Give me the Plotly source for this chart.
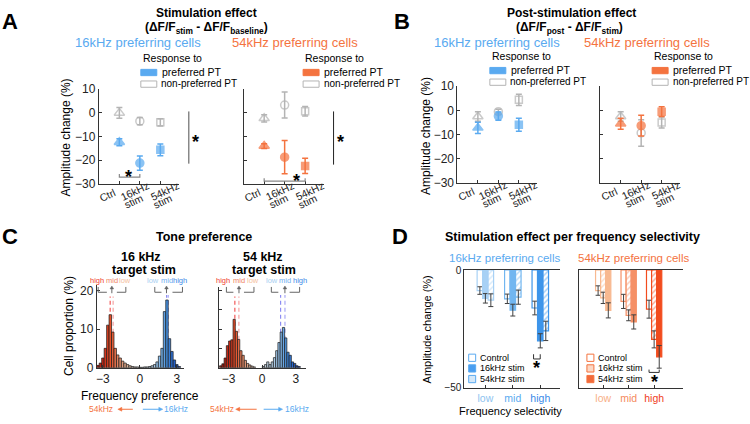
import plotly.graph_objects as go

W, H = 750, 424
FONT = "Liberation Sans, Arial, sans-serif"

BLUE = "#5aaaf0"
ORANGE = "#f4733f"
GRAY = "#b4b4b4"
AXC = "#333333"

# ---------------- data ----------------
conds = [1, 2, 3]
cond_labels = [["Ctrl"], ["16kHz", "stim"], ["54kHz", "stim"]]

# A: stimulation effect
a16_pref = [-12.4, -21.2, -15.6]
a16_pref_err = [1.5, 3.0, 2.5]
a16_non = [0.0, -3.5, -4.0]
a16_non_err = [2.3, 1.5, 1.5]
a54_pref = [-14.0, -18.7, -22.4]
a54_pref_err = [1.0, 7.0, 3.2]
a54_non = [-2.3, 3.3, 0.7]
a54_non_err = [1.5, 5.5, 2.0]

# B: post-stimulation effect
b16_pref = [-7.2, -2.3, -5.9]
b16_pref_err = [2.3, 1.7, 2.7]
b16_non = [-2.5, -0.5, 4.4]
b16_non_err = [2.0, 1.0, 2.3]
b54_pref = [-5.5, -6.3, -0.5]
b54_pref_err = [2.3, 4.3, 2.0]
b54_non = [-2.5, -9.3, -5.0]
b54_non_err = [2.0, 5.5, 2.3]

# C: tone preference histograms (bin centre, % of cells)
c1_orange_x = [-3.4, -3.2, -3.0, -2.8, -2.6, -2.4, -2.2, -2.0, -1.8, -1.6, -1.4, -1.2, -1.0, -0.8, -0.6, -0.4, -0.2]
c1_orange_h = [0.6, 1.2, 2.5, 5.0, 11.0, 13.7, 9.2, 5.0, 3.3, 2.5, 1.7, 1.2, 0.8, 0.5, 0.3, 0.2, 0.2]
c1_blue_x = [0.0, 0.2, 0.4, 0.6, 0.8, 1.0, 1.2, 1.4, 1.6, 1.8, 2.0, 2.2, 2.4, 2.6, 2.8, 3.0, 3.2]
c1_blue_h = [0.1, 0.1, 0.2, 0.2, 0.3, 0.5, 0.8, 1.5, 3.0, 5.0, 14.5, 17.5, 7.5, 4.2, 2.0, 0.8, 0.3]
c2_orange_x = [-3.7, -3.5, -3.3, -3.1, -2.9, -2.7, -2.5, -2.3, -2.1, -1.9, -1.7, -1.5, -1.3, -1.1, -0.9, -0.7]
c2_orange_h = [0.5, 1.0, 2.5, 5.7, 6.9, 7.2, 12.5, 9.4, 7.3, 4.4, 3.2, 1.9, 1.1, 0.7, 0.4, 0.2]
c2_blue_x = [0.1, 0.3, 0.5, 0.7, 0.9, 1.1, 1.3, 1.5, 1.7, 1.9, 2.1, 2.3, 2.5, 2.7, 2.9, 3.1, 3.3]
c2_blue_h = [0.3, 0.8, 1.5, 0.8, 1.5, 2.6, 4.4, 6.5, 9.2, 10.4, 7.7, 4.0, 3.2, 1.5, 1.1, 0.5, 0.3]
c1_medians_orange = [-2.41, -2.17]
c1_medians_blue = [2.17, 2.30]
c2_medians_orange = [-2.44, -2.08]
c2_medians_blue = [1.64, 2.03]

# D: stimulation effect per frequency selectivity
sel = [1, 2, 3]
sel_labels = ["low", "mid", "high"]
d16_ctrl = [-8.7, -12.2, -16.1]
d16_ctrl_err = [1.6, 2.0, 2.9]
d16_s16 = [-12.0, -17.0, -30.0]
d16_s16_err = [2.0, 2.5, 3.0]
d16_s54 = [-12.8, -11.5, -25.8]
d16_s54_err = [2.7, 3.0, 4.1]
d54_ctrl = [-8.7, -13.3, -16.6]
d54_ctrl_err = [2.0, 3.0, 3.8]
d54_s16 = [-11.8, -19.2, -29.4]
d54_s16_err = [2.4, 2.3, 3.6]
d54_s54 = [-17.1, -22.0, -36.8]
d54_s54_err = [3.2, 3.0, 4.8]

D_BLUES = ["#a8d1f5", "#72b6f0", "#3d95ea"]
D_ORANGES = ["#f8b990", "#f59066", "#f24c1e"]


def px(x):
    return x / W


def py(y):
    return 1 - y / H


def lerp(stops, v):
    if v <= stops[0][0]:
        c = stops[0][1]
    elif v >= stops[-1][0]:
        c = stops[-1][1]
    else:
        for (p0, c0), (p1, c1) in zip(stops[:-1], stops[1:]):
            if p0 <= v <= p1:
                t = (v - p0) / (p1 - p0)
                c = tuple(a + (b - a) * t for a, b in zip(c0, c1))
                break
    return "rgb(%d,%d,%d)" % c


ORANGE_STOPS = [(-3.7, (150, 25, 15)), (-2.9, (205, 45, 25)), (-2.4, (232, 80, 40)),
                (-1.8, (225, 130, 95)), (-1.0, (222, 178, 150)), (-0.2, (210, 200, 192))]
BLUE_STOPS = [(0.0, (195, 205, 215)), (1.0, (178, 205, 228)), (1.6, (140, 190, 235)),
              (2.2, (70, 145, 225)), (2.8, (35, 95, 200)), (3.4, (25, 55, 150))]

fig = go.Figure()


def points(y, err, color, filled, ax):
    syms = ["triangle-up", "circle", "square"]
    if not filled:
        syms = [s + "-open" for s in syms]
    fig.add_trace(go.Scatter(
        x=conds, y=y, mode="markers",
        marker=dict(symbol=syms, size=[9, 8, 7], color=color, line=dict(color=color, width=1.5)),
        error_y=dict(type="data", array=err, color=color, thickness=1.5, width=3),
        xaxis="x" + ax, yaxis="y" + ax, showlegend=False, cliponaxis=False))


points(a16_non, a16_non_err, GRAY, False, "")
points(a16_pref, a16_pref_err, BLUE, True, "")
points(a54_non, a54_non_err, GRAY, False, "2")
points(a54_pref, a54_pref_err, ORANGE, True, "2")
points(b16_non, b16_non_err, GRAY, False, "3")
points(b16_pref, b16_pref_err, BLUE, True, "3")
points(b54_non, b54_non_err, GRAY, False, "4")
points(b54_pref, b54_pref_err, ORANGE, True, "4")

# C histograms
for ax, ox, oh, bx, bh in [("5", c1_orange_x, c1_orange_h, c1_blue_x, c1_blue_h),
                           ("6", c2_orange_x, c2_orange_h, c2_blue_x, c2_blue_h)]:
    cols = [lerp(ORANGE_STOPS, v) for v in ox] + [lerp(BLUE_STOPS, v) for v in bx]
    fig.add_trace(go.Bar(
        x=ox + bx, y=oh + bh, width=0.2,
        marker=dict(color=cols, line=dict(color="#1a1a1a", width=0.7)),
        xaxis="x" + ax, yaxis="y" + ax, showlegend=False))


# D bars
def bars(y, err, cols, style, ax):
    if style == "open":
        marker = dict(color="white", line=dict(color=cols, width=1.2))
    elif style == "solid":
        marker = dict(color=cols, line=dict(color=cols, width=1.2))
    else:
        marker = dict(color="white", line=dict(color=cols, width=1.2),
                      pattern=dict(shape="/", fgcolor=cols, bgcolor="white", size=4, solidity=0.35))
    fig.add_trace(go.Bar(
        x=sel, y=y, marker=marker,
        error_y=dict(type="data", array=err, color="#404040", thickness=1, width=2.5),
        xaxis="x" + ax, yaxis="y" + ax, showlegend=False))


bars(d16_ctrl, d16_ctrl_err, D_BLUES, "open", "7")
bars(d16_s16, d16_s16_err, D_BLUES, "solid", "7")
bars(d16_s54, d16_s54_err, D_BLUES, "hatch", "7")
bars(d54_ctrl, d54_ctrl_err, D_ORANGES, "open", "8")
bars(d54_s16, d54_s16_err, D_ORANGES, "hatch", "8")
bars(d54_s54, d54_s54_err, D_ORANGES, "solid", "8")

# ---------------- axes ----------------
base_ax = dict(showline=True, linecolor=AXC, linewidth=1, ticks="inside", ticklen=3,
               tickcolor=AXC, showgrid=False, zeroline=False,
               tickfont=dict(family=FONT, size=11, color="#222"))

layout_axes = {}


def set_axes(n, xdom, ydom, xr, yr, xkw, ykw):
    xa = dict(base_ax, domain=[px(xdom[0]), px(xdom[1])], range=xr, anchor="y" + n)
    ya = dict(base_ax, domain=[py(ydom[1]), py(ydom[0])], range=yr, anchor="x" + n)
    xa.update(xkw)
    ya.update(ykw)
    layout_axes["xaxis" + n] = xa
    layout_axes["yaxis" + n] = ya


ab_x = dict(tickvals=conds, showticklabels=False)
ab_y_lab = dict(tickvals=[10, 0, -10, -20, -30], tickfont=dict(family=FONT, size=12, color="#222"))
ab_y_nolab = dict(tickvals=[10, 0, -10, -20, -30], showticklabels=False)

AB_PANELS = [("", 98, 85, 183), ("2", 243, 85, 183), ("3", 457, 82, 182), ("4", 600, 82, 182)]
for n, x0, y0, y1 in AB_PANELS:
    set_axes(n, (x0, x0 + 80), (y0, y1), [0, 3.9], [-30, 10], ab_x,
             ab_y_lab if n in ("", "3") else ab_y_nolab)

c_x = dict(tickvals=[-3, 0, 3], tickfont=dict(family=FONT, size=12, color="#222"))
set_axes("5", (96, 183), (288, 373), [-3.49, 3.56], [0, 21.25], c_x,
         dict(tickvals=[0, 10, 20], tickfont=dict(family=FONT, size=12, color="#222")))
set_axes("6", (218, 305), (290, 373), [-3.88, 3.87], [0, 20.75], c_x,
         dict(tickvals=[0, 5, 10, 15, 20], showticklabels=False))


def sel_text(cols):
    return ["<span style='color:%s'>%s</span>" % (c, t) for c, t in zip(cols, sel_labels)]


d_y = dict(tickvals=[0, -50], tickfont=dict(family=FONT, size=10, color="#222"))
set_axes("7", (464, 560), (272, 394), [0.236, 3.727], [-50, 0],
         dict(tickvals=sel, ticktext=sel_text(["#8ec3f0", "#5aaaf0", "#3a8ae8"]), mirror=True,
              tickfont=dict(family=FONT, size=10.5)), d_y)
set_axes("8", (579, 683), (272, 394), [0.059, 4.137], [-50, 0],
         dict(tickvals=sel, ticktext=sel_text(["#f8b088", "#f58a5e", "#f03c1c"]), mirror=True,
              tickfont=dict(family=FONT, size=10.5)), dict(d_y, showticklabels=False))

# ---------------- annotations & shapes ----------------
ann = []
shapes = []


def text(s, x, y, size=11, color="#000", anchor="center", angle=0, ref=None, yshift=0, xshift=0):
    d = dict(text=s, x=px(x), y=py(y), xref="paper", yref="paper", showarrow=False,
             xanchor=anchor, yanchor="middle", textangle=angle, yshift=yshift, xshift=xshift,
             font=dict(family=FONT, size=size, color=color))
    if ref is not None:
        d.update(x=x, y=y, xref="x" + ref, yref="y" + ref)
    ann.append(d)


def star(x, y, ref=None):
    text("<b>*</b>", x, y, size=18, ref=ref, yshift=-5)


def rect(x0, y0, x1, y1, fill, line):
    shapes.append(dict(type="rect", xref="paper", yref="paper", x0=px(x0), x1=px(x1),
                       y0=py(y0), y1=py(y1), fillcolor=fill, line=dict(color=line, width=1)))


def pline(pts, color="#777", width=1, fill=None):
    p = "M " + " L ".join("%f,%f" % (px(a), py(b)) for a, b in pts)
    s = dict(type="path", path=p + (" Z" if fill else ""), xref="paper", yref="paper",
             line=dict(color=color, width=width))
    if fill:
        s["fillcolor"] = fill
    shapes.append(s)


def dline(pts, ref, color="#888", width=1.2):
    p = "M " + " L ".join("%f,%f" % (a, b) for a, b in pts)
    shapes.append(dict(type="path", path=p, xref="x" + ref, yref="y" + ref,
                       line=dict(color=color, width=width)))


def arrow_up(x, ytop, ybot, color):
    pline([(x, ybot), (x, ytop + 2)], color=color)
    pline([(x - 1.8, ytop + 3), (x + 1.8, ytop + 3), (x, ytop)], color=color, width=0.5, fill=color)


def arrow_h(hx, tx, y, color):
    d = 1 if tx > hx else -1
    pline([(tx, y), (hx + d * 3, y)], color=color)
    pline([(hx + d * 4, y - 2), (hx + d * 4, y + 2), (hx, y)], color=color, width=0.5, fill=color)


# rotated condition labels under A/B panels (offsets in px from the tick)
LABEL_DX = [[-12], [-5, -6], [4.5, 3]]
LABEL_DY = [[11], [7.5, 18], [7.5, 18]]
for n, x0, y0, y1 in AB_PANELS:
    for c, lines, dxs, dys in zip(conds, cond_labels, LABEL_DX, LABEL_DY):
        for s, dx, dy in zip(lines, dxs, dys):
            ann.append(dict(text=s, x=c, y=py(y1 + dy), xref="x" + n, yref="paper",
                            xshift=dx, showarrow=False, textangle=-25, xanchor="center",
                            yanchor="middle", font=dict(family=FONT, size=10.5, color="#222")))

# panel letters
for L, x, y in [("A", 9, 15), ("B", 402, 15), ("C", 9, 237), ("D", 400, 237)]:
    text("<b>%s</b>" % L, x, y, size=22)

# A/B titles
text("<b>Stimulation effect</b>", 206, 6, size=12)
text("<b>(ΔF/F<sub>stim</sub> - ΔF/F<sub>baseline</sub>)</b>", 206, 22, size=12)
text("<b>Post-stimulation effect</b>", 571, 6, size=12)
text("<b>(ΔF/F<sub>post</sub> - ΔF/F<sub>stim</sub>)</b>", 569, 22, size=12)
text("16kHz preferring cells", 137.5, 37, size=13, color=BLUE)
text("54kHz preferring cells", 294.3, 37, size=13, color=ORANGE)
text("16kHz preferring cells", 496.7, 37, size=13, color=BLUE)
text("54kHz preferring cells", 646.7, 37, size=13, color=ORANGE)

# A/B legends
for lx, ly, col in [(140, 53, BLUE), (302.5, 53, ORANGE), (489.5, 51, BLUE), (652, 51, ORANGE)]:
    text("Response to", lx, ly, size=10.5, anchor="left")
    rect(lx, ly + 11.5, lx + 16, ly + 18, col, col)
    text("preferred PT", lx + 19, ly + 14.5, size=10.5, anchor="left")
    rect(lx, ly + 23.5, lx + 16, ly + 30, "white", GRAY)
    text("non-preferred PT", lx + 18.5, ly + 26.5, size=10, anchor="left")

text("Amplitude change (%)", 65, 135, size=12, angle=-90)
text("Amplitude change (%)", 425, 133, size=12, angle=-90)

# significance marks A
dline([(1, -25.8), (1, -27.1), (2, -27.1), (2, -25.8)], "")
star(1.45, -25.0, ref="")
dline([(1, -27.6), (1, -28.8), (3, -28.8), (3, -27.6)], "2")
star(2.56, -26.5, ref="2")
pline([(188, 108), (188, 162)], color="#888", width=1.5)
star(195, 134)
pline([(333, 108), (333, 163)], color="#222", width=1)
star(339.5, 134)

# C
text("<b>Tone preference</b>", 203, 238, size=12.5)
text("<b>16 kHz</b>", 140, 259, size=12.5)
text("<b>target stim</b>", 142.7, 272, size=12.5)
text("<b>54 kHz</b>", 262.7, 259, size=12.5)
text("<b>target stim</b>", 263.3, 272, size=12.5)
text("Cell proportion (%)", 68, 330, size=12, angle=-90)
text("Frequency preference", 139, 402, size=12)

OR_HI, OR_MID, OR_LO = "#f03c2c", "#f0865f", "#f5bf9e"
BL_LO, BL_MID, BL_HI = "#aacff2", "#72aef0", "#3c88e8"
for (hx, mx, lx), (lx2, mx2, hx2) in [((96.2, 111.5, 124.5), (152, 166, 179)),
                                       ((222.2, 238.3, 252.2), (271.2, 284.3, 299.5))]:
    text("high", hx, 283, size=7.5, color=OR_HI)
    text("mid", mx, 283, size=7.5, color=OR_MID)
    text("low", lx, 283, size=7.5, color=OR_LO)
    text("low", lx2, 283, size=7.5, color=BL_LO)
    text("mid", mx2, 283, size=7.5, color=BL_MID)
    text("high", hx2, 283, size=7.5, color=BL_HI)

for a, b, m, c, d in [(97.3, 106, 111, 116, 125), (154, 160.7, 165.7, 171.7, 181.7),
                      (225.7, 232.7, 238.3, 243.3, 253.3), (270.7, 277.7, 284.3, 289, 299)]:
    pline([(a, 289.5), (a, 295), (b, 295)], color="#666")
    pline([(c, 295), (d, 295), (d, 289.5)], color="#666")
    arrow_up(m, 288.5, 296, "#666")

for ref, meds_o, meds_b in [("5", c1_medians_orange, c1_medians_blue),
                            ("6", c2_medians_orange, c2_medians_blue)]:
    for v, col in zip(meds_o, ["#f25a5a", "#f5a3a3"]):
        shapes.append(dict(type="line", xref="x" + ref, yref="y" + ref, x0=v, x1=v, y0=0, y1=18.4,
                           layer="below", line=dict(color=col, width=1.2, dash="4px,3px")))
    for v, col in zip(meds_b, ["#8c8cf2", "#a8a8f5"]):
        shapes.append(dict(type="line", xref="x" + ref, yref="y" + ref, x0=v, x1=v, y0=0, y1=18.8,
                           layer="below", line=dict(color=col, width=1.2, dash="4px,3px")))

for t5, a1h, a1t, a2t, a2h, t16 in [(100.5, 117, 132, 142, 162, 175), (221, 235, 256, 263, 282, 296.5)]:
    text("54kHz", t5, 416, size=8.5, color=ORANGE)
    arrow_h(a1h, a1t, 416, ORANGE)
    arrow_h(a2h, a2t, 416, BLUE)
    text("16kHz", t16, 416, size=8.5, color=BLUE)

# D
text("<b>Stimulation effect per frequency selectivity</b>", 572, 238, size=12.5)
text("16kHz preferring cells", 504, 260, size=11.5, color=BLUE)
text("54kHz preferring cells", 633, 260, size=11.5, color=ORANGE)
text("Amplitude change (%)", 427, 333, size=11, angle=-90)
text("Frequency selectivity", 510, 418, size=11)

for lx, c_ctrl, f16, f54 in [(468.3, BLUE, "#4a9ef0", "#d4e8f9"),
                             (586.7, ORANGE, "#fbd8c5", "#f26a3a")]:
    rect(lx, 359, lx + 7, 366.5, "white", c_ctrl)
    rect(lx, 370, lx + 7, 377.5, f16, c_ctrl)
    rect(lx, 381, lx + 7, 388.5, f54, c_ctrl)
    text("Control", lx + 9.5, 362.7, size=9, anchor="left")
    text("16kHz stim", lx + 9.5, 373.5, size=9, anchor="left")
    text("54kHz stim", lx + 9.5, 384.5, size=9, anchor="left")

dline([(2.755, -35.7), (2.755, -37.7), (2.998, -37.7), (2.998, -35.7)], "7", color="#333", width=1)
star(2.877, -39.6, ref="7")
dline([(2.8, -42.2), (2.8, -43.4), (3.2, -43.4), (3.2, -42.2)], "8", color="#333", width=1)
star(3.0, -45.5, ref="8")

fig.update_layout(
    width=W, height=H, margin=dict(l=0, r=0, t=0, b=0),
    paper_bgcolor="white", plot_bgcolor="white",
    barmode="group", bargap=0.4, bargroupgap=0,
    font=dict(family=FONT, color="#000"),
    annotations=ann, shapes=shapes, showlegend=False,
    **layout_axes)

fig.write_html("out.html", config={"displayModeBar": False},
               post_script="document.body.style.margin='0px';")
